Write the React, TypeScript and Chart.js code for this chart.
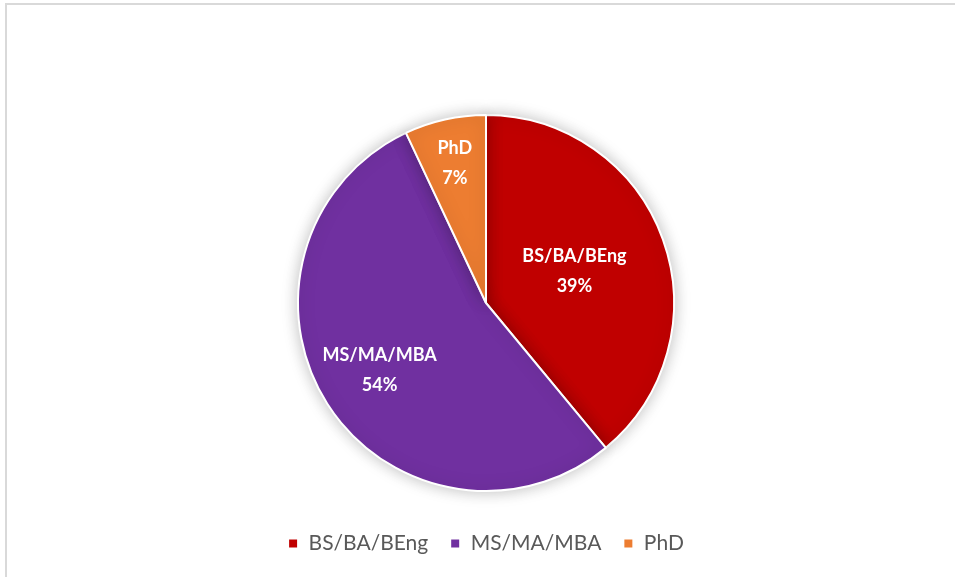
import React, { useEffect, useRef } from "react";
import { Chart, registerables } from "chart.js";

Chart.register(...registerables);

const categories = ["BS/BA/BEng", "MS/MA/MBA", "PhD"];
const values = [39, 54, 7];
const colors = ["#C00000", "#7030A0", "#ED7D31"];
const labelRadiusFraction = [0.5, 0.67, 0.76];

const FONT = "Lato, 'Open Sans', sans-serif";

const shadowPlugin = {
  id: "pieShadow",
  beforeDatasetsDraw(chart: any) {
    const ctx = chart.ctx;
    ctx.save();
    ctx.shadowColor = "rgba(0,0,0,0.25)";
    ctx.shadowBlur = 16;
    ctx.shadowOffsetX = 0;
    ctx.shadowOffsetY = 0;
  },
  afterDatasetsDraw(chart: any) {
    chart.ctx.restore();
  },
};

const labelPlugin = {
  id: "sliceLabels",
  afterDraw(chart: any) {
    const ctx = chart.ctx;
    const meta = chart.getDatasetMeta(0);
    const total = values.reduce((a, b) => a + b, 0);
    ctx.save();
    ctx.fillStyle = "#ffffff";
    ctx.font = `bold 18px ${FONT}`;
    ctx.textAlign = "center";
    ctx.textBaseline = "middle";
    meta.data.forEach((arc: any, i: number) => {
      const { x, y, startAngle, endAngle, outerRadius } = arc.getProps(
        ["x", "y", "startAngle", "endAngle", "outerRadius"],
        true
      );
      const mid = (startAngle + endAngle) / 2;
      const r = outerRadius * labelRadiusFraction[i];
      const cx = x + Math.cos(mid) * r;
      const cy = y + Math.sin(mid) * r;
      const pct = Math.round((values[i] / total) * 100) + "%";
      ctx.fillText(categories[i], cx, cy - 15);
      ctx.fillText(pct, cx, cy + 15);
    });
    ctx.restore();
  },
};

export default function App() {
  const canvasRef = useRef<HTMLCanvasElement | null>(null);

  useEffect(() => {
    if (!canvasRef.current) return;
    const chart = new Chart(canvasRef.current, {
      type: "pie",
      data: {
        labels: categories,
        datasets: [
          {
            data: values,
            backgroundColor: colors,
            borderColor: "#ffffff",
            borderWidth: 2,
            radius: 188,
          },
        ],
      },
      options: {
        responsive: false,
        animation: false,
        layout: { padding: { left: 17, right: 0, top: 95, bottom: 13 } },
        plugins: {
          tooltip: { enabled: false },
          legend: {
            position: "bottom",
            labels: {
              color: "#595959",
              font: { family: FONT, size: 21 },
              boxWidth: 10,
              boxHeight: 10,
              padding: 22,
              usePointStyle: true,
              pointStyle: "rect",
            },
          },
        },
      },
      plugins: [shadowPlugin, labelPlugin],
    });
    return () => chart.destroy();
  }, []);

  return (
    <div style={{ position: "fixed", left: 0, top: 0, width: 955, height: 577, background: "#fff", overflow: "hidden" }}>
      <div
        style={{
          position: "absolute",
          left: 5,
          top: 3,
          width: 1000,
          height: 600,
          borderLeft: "2px solid #d9d9d9",
          borderTop: "2px solid #d9d9d9",
        }}
      />
      <canvas ref={canvasRef} width={955} height={577} style={{ position: "absolute", left: 0, top: 0 }} />
    </div>
  );
}
